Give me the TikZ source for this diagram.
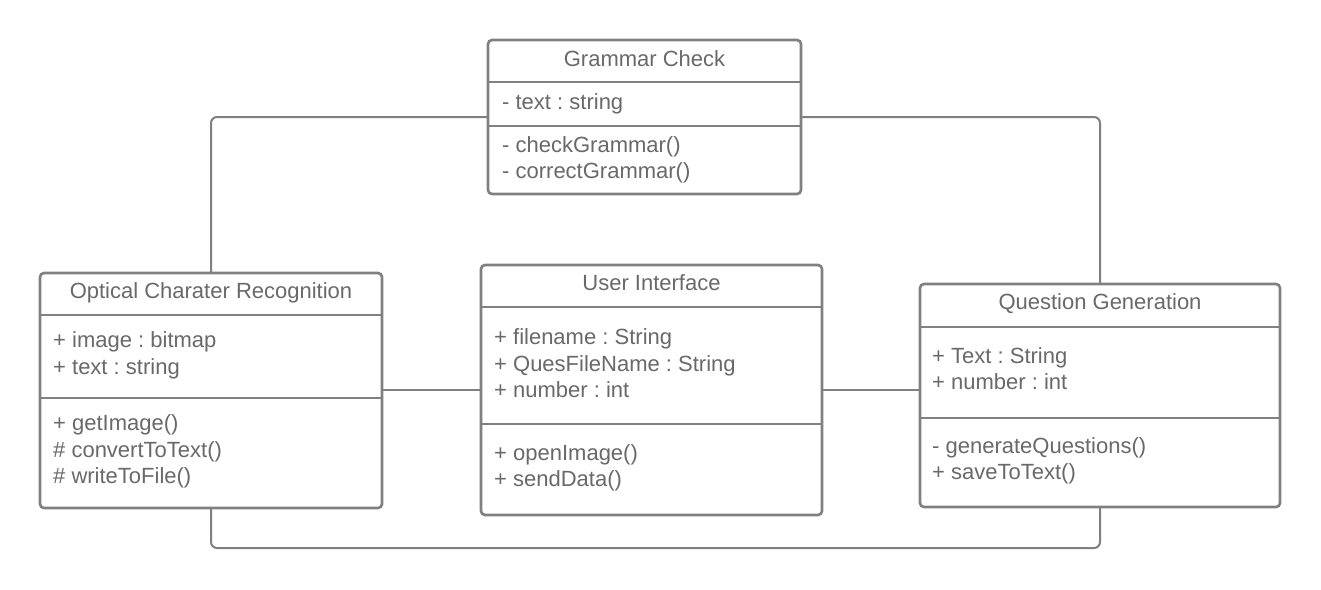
\documentclass[tikz,border=0pt]{standalone}
\usepackage{fontspec}
\setmainfont{Liberation Sans}
\usetikzlibrary{backgrounds}
\frenchspacing
\begin{document}
\begin{tikzpicture}[x=1pt,y=-1pt,
  linegray/.style={draw={rgb,255:red,128;green,128;blue,128}},
  box/.style={linegray, line width=2.6pt, fill=white, rounded corners=4pt, rectangle, anchor=north west, inner sep=0, outer sep=0},
  divider/.style={linegray, line width=2.6pt},
  conn/.style={linegray, line width=2pt, rounded corners=6pt},
  title/.style={anchor=base, text={rgb,255:red,105;green,105;blue,105}, font=\fontsize{22}{26}\selectfont, inner sep=0},
  mem/.style={anchor=base west, text={rgb,255:red,105;green,105;blue,105}, font=\fontsize{22}{26}\selectfont, inner sep=0}]
\useasboundingbox (0,0) rectangle (1321,589);

% boxes
\node[box, minimum width=313pt, minimum height=154pt] (gc) at (488,40) {};
\node[box, minimum width=342pt, minimum height=235pt] (ocr) at (40,273) {};
\node[box, minimum width=341pt, minimum height=250pt] (ui) at (481,265) {};
\node[box, minimum width=360pt, minimum height=223pt] (qg) at (920,284) {};

% connectors (behind boxes)
\begin{scope}[on background layer]
\fill[white] (0,0) rectangle (1321,589);
\draw[conn] (gc.west) -| (ocr.north);
\draw[conn] (gc.east) -| (qg.north);
\draw[conn] (ocr.south) -- ++(0,40) -| (qg.south);
\draw[conn] (ui.west -| ocr.east) -- (ui.west);
\draw[conn] (ui.east) -- (ui.east -| qg.west);
\end{scope}

% dividers
\draw[divider] (488,82) -- (801,82);
\draw[divider] (488,126) -- (801,126);
\draw[divider] (40,315) -- (382,315);
\draw[divider] (40,398) -- (382,398);
\draw[divider] (481,307) -- (822,307);
\draw[divider] (481,424) -- (822,424);
\draw[divider] (920,327) -- (1280,327);
\draw[divider] (920,418) -- (1280,418);

% Grammar Check
\node[title] (gct) at (644.5,66) {Grammar Check};
\node[mem] (gca1) at (502,109) {- text : string};
\node[mem] (gcm1) at (502,152) {- checkGrammar()};
\node[mem] (gcm2) at (502,178) {- correctGrammar()};

% OCR
\node[title] (ocrt) at (211,298) {Optical Charater Recognition};
\node[mem] (ocra1) at (53,347) {+ image : bitmap};
\node[mem] (ocra2) at (53,374) {+ text : string};
\node[mem] (ocrm1) at (53,430) {+ getImage()};
\node[mem] (ocrm2) at (53,457) {\# convertToText()};
\node[mem] (ocrm3) at (53,483) {\# writeToFile()};

% User Interface
\node[title] (uit) at (651.5,290) {User Interface};
\node[mem] (uia1) at (494,344) {+ filename : String};
\node[mem] (uia2) at (494,371) {+ QuesFileName : String};
\node[mem] (uia3) at (494,397) {+ number : int};
\node[mem] (uim1) at (494,460) {+ openImage()};
\node[mem] (uim2) at (494,486) {+ sendData()};

% Question Generation
\node[title] (qgt) at (1100,309) {Question Generation};
\node[mem] (qga1) at (932,363) {+ Text : String};
\node[mem] (qga2) at (932,389) {+ number : int};
\node[mem] (qgm1) at (932,453) {- generateQuestions()};
\node[mem] (qgm2) at (932,479) {+ saveToText()};
\end{tikzpicture}
\end{document}
